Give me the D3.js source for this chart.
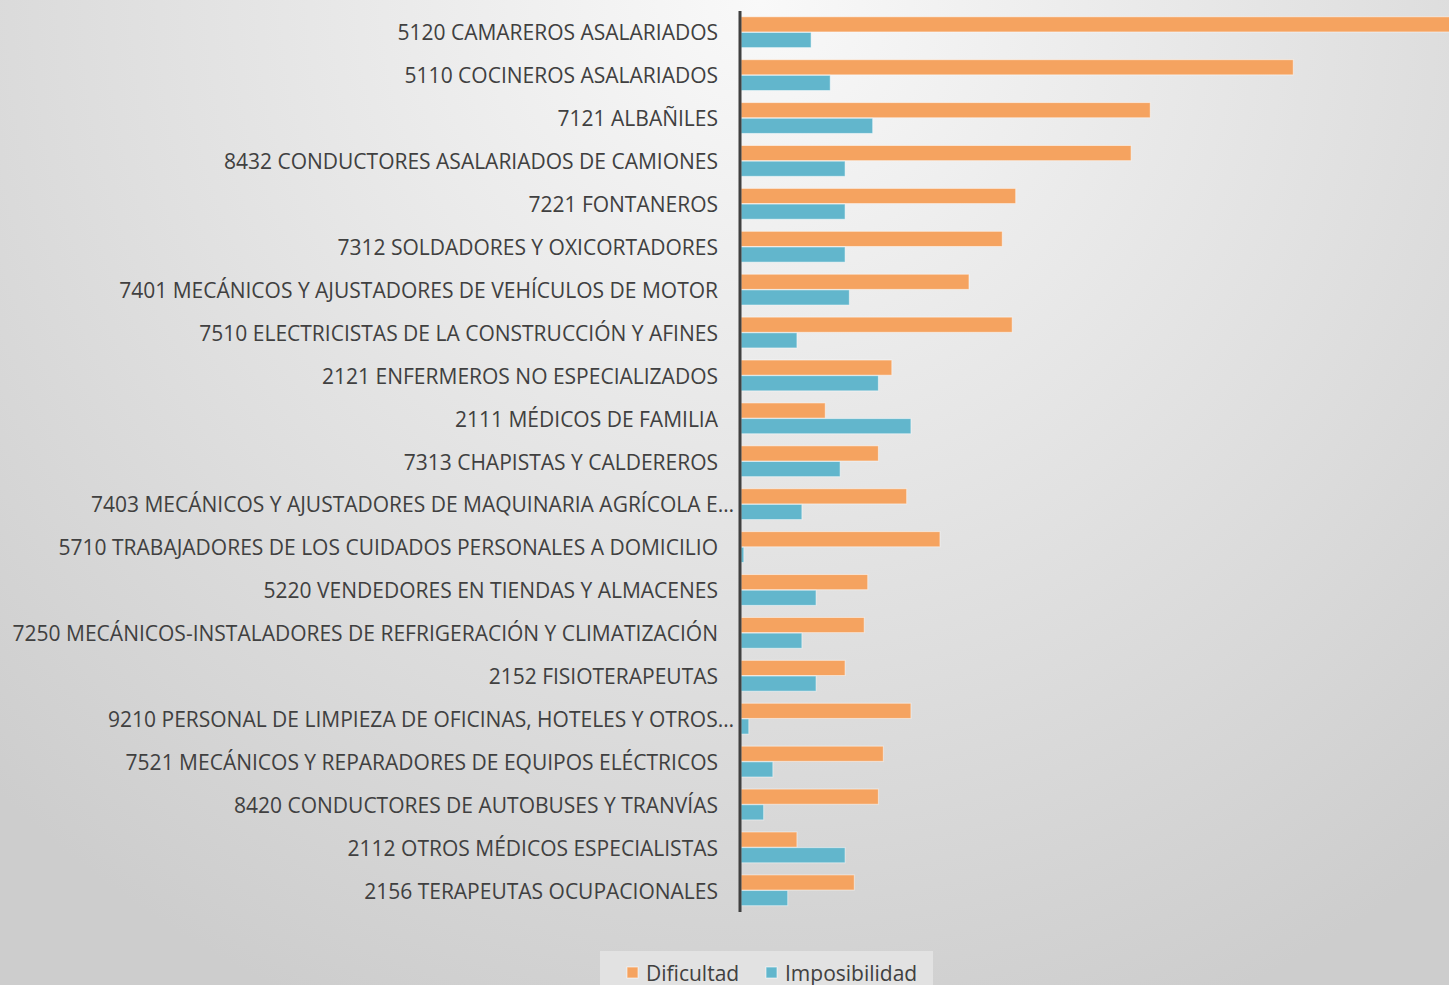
<!DOCTYPE html>
<html lang="en">
<head>
<meta charset="utf-8">
<title>Dificultad e imposibilidad por ocupación</title>
<script src="https://d3js.org/d3.v7.min.js"></script>
<style>
  body { margin: 0; overflow: hidden; }
  .label { font-family: "Open Sans", "Noto Sans", sans-serif; font-size: 21px; fill: #404040; }
  .legend text { font-family: "Open Sans", "Noto Sans", sans-serif; font-size: 21px; fill: #404040; }
</style>
</head>
<body>
<script>
// occupations, top to bottom
const categories = [
  "5120 CAMAREROS ASALARIADOS",
  "5110 COCINEROS ASALARIADOS",
  "7121 ALBAÑILES",
  "8432 CONDUCTORES ASALARIADOS DE CAMIONES",
  "7221 FONTANEROS",
  "7312 SOLDADORES Y OXICORTADORES",
  "7401 MECÁNICOS Y AJUSTADORES DE VEHÍCULOS DE MOTOR",
  "7510 ELECTRICISTAS DE LA CONSTRUCCIÓN Y AFINES",
  "2121 ENFERMEROS NO ESPECIALIZADOS",
  "2111 MÉDICOS DE FAMILIA",
  "7313 CHAPISTAS Y CALDEREROS",
  "7403 MECÁNICOS Y AJUSTADORES DE MAQUINARIA AGRÍCOLA E…",
  "5710 TRABAJADORES DE LOS CUIDADOS PERSONALES A DOMICILIO",
  "5220 VENDEDORES EN TIENDAS Y ALMACENES",
  "7250 MECÁNICOS-INSTALADORES DE REFRIGERACIÓN Y CLIMATIZACIÓN",
  "2152 FISIOTERAPEUTAS",
  "9210 PERSONAL DE LIMPIEZA DE OFICINAS, HOTELES Y OTROS…",
  "7521 MECÁNICOS Y REPARADORES DE EQUIPOS ELÉCTRICOS",
  "8420 CONDUCTORES DE AUTOBUSES Y TRANVÍAS",
  "2112 OTROS MÉDICOS ESPECIALISTAS",
  "2156 TERAPEUTAS OCUPACIONALES"
];

const dificultad = [110, 78, 57.8, 55.1, 38.8, 36.9, 32.2, 38.3, 21.3, 11.9, 19.4,
                    23.4, 28.1, 17.9, 17.4, 14.7, 24.0, 20.1, 19.4, 7.9, 16.0];
const imposibilidad = [9.9, 12.6, 18.6, 14.7, 14.7, 14.7, 15.3, 7.9, 19.4, 24.0, 14.0,
                       8.6, 0.4, 10.6, 8.6, 10.6, 1.1, 4.5, 3.2, 14.7, 6.6];

const series = ["Dificultad", "Imposibilidad"];
const colors = ["#f5a360", "#62b6cc"];

const W = 1449, H = 985;
const axisX = 741;

const svg = d3.select("body").append("svg")
  .attr("width", W).attr("height", H);

// background gradient
const defs = svg.append("defs");
const grad = defs.append("radialGradient")
  .attr("id", "bg")
  .attr("gradientUnits", "userSpaceOnUse")
  .attr("cx", 760).attr("cy", 0).attr("r", 1100);
grad.append("stop").attr("offset", "0%").attr("stop-color", "#f9f9f9");
grad.append("stop").attr("offset", "100%").attr("stop-color", "#cdcdcd");
svg.append("rect").attr("width", W).attr("height", H).attr("fill", "url(#bg)");

// scales
const x = d3.scaleLinear().domain([0, 100]).range([axisX, W]);
const y = d3.scaleBand().domain(categories).range([11, 912]).paddingInner(0.27).paddingOuter(0.135);
const ySub = d3.scaleBand().domain(series).range([0, y.bandwidth()]);

const rows = categories.map((c, i) => ({ cat: c, vals: [dificultad[i], imposibilidad[i]] }));

const groups = svg.append("g").selectAll("g")
  .data(rows)
  .enter().append("g")
  .attr("transform", d => "translate(0," + y(d.cat) + ")");

groups.selectAll("rect")
  .data(d => d.vals.map((v, j) => ({ key: series[j], v: v, j: j })))
  .enter().append("rect")
  .attr("x", x(0))
  .attr("y", d => ySub(d.key))
  .attr("width", d => x(d.v) - x(0))
  .attr("height", ySub.bandwidth() - 0.5)
  .attr("fill", d => colors[d.j])
  .attr("stroke", "rgba(255,255,255,0.5)")
  .attr("stroke-width", 1);

// category labels (truncated ones overflow a little, as in the original)
svg.append("g").selectAll("text")
  .data(categories)
  .enter().append("text")
  .attr("class", "label")
  .attr("text-anchor", "end")
  .attr("x", d => d.endsWith("…") ? 734 : 718)
  .attr("y", d => y(d) + y.bandwidth() / 2 + 8)
  .text(d => d);

// vertical axis line
svg.append("line")
  .attr("x1", axisX - 1).attr("x2", axisX - 1)
  .attr("y1", 11).attr("y2", 912)
  .attr("stroke", "#404040").attr("stroke-width", 3);

// legend
const legend = svg.append("g").attr("class", "legend");
legend.append("rect")
  .attr("x", 600).attr("y", 951).attr("width", 333).attr("height", 40)
  .attr("fill", "#e2e2e2");
const legendX = [627, 766];
series.forEach((s, i) => {
  legend.append("rect")
    .attr("x", legendX[i]).attr("y", 967).attr("width", 11).attr("height", 11)
    .attr("fill", colors[i]).attr("stroke", "rgba(255,255,255,0.6)");
  legend.append("text")
    .attr("x", legendX[i] + 19).attr("y", 981)
    .text(s);
});
</script>
</body>
</html>
